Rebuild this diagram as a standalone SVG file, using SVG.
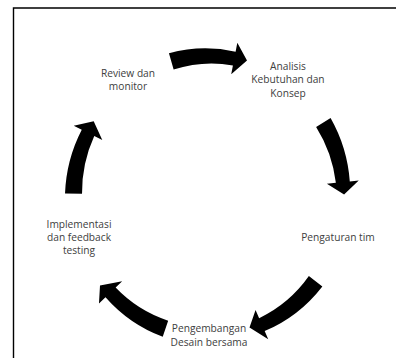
<svg xmlns="http://www.w3.org/2000/svg" width="396" height="358" viewBox="0 0 396 358">
  <style>
    .frame { stroke: #000; stroke-width: 1.4; fill: none; }
    .lbl { font-family: "Open Sans", "Noto Sans", "Liberation Sans", sans-serif; font-size: 10.2px; fill: #404040; text-anchor: middle; }
    .arrow { fill: #000; stroke: none; }
  </style>
  <rect width="396" height="358" fill="#fff"/>

  <!-- open frame: top and left edges only -->
  <path class="frame" d="M13.5 358 V8 H396"/>

  <!-- curved block arrows around the cycle (clockwise) -->
  <g id="connectors">
    <path class="arrow" d="M168.95 53.25 A142.75 147.75 0 0 1 235.60 51.70 L237.31 42.87 L247.0 60.5 L231.21 74.28 L232.92 65.44 A127.25 132.25 0 0 0 173.63 69.59 Z"/>
    <path class="arrow" d="M330.59 117.97 A142.75 147.75 0 0 1 349.80 181.40 L358.75 180.51 L344.08 194.5 L326.91 183.68 L335.87 182.79 A127.25 132.25 0 0 0 316.13 126.90 Z"/>
    <path class="arrow" d="M322.35 286.40 A142.75 147.75 0 0 1 264.67 331.01 L268.23 339.28 L249.5 327.5 L255.57 309.89 L259.13 318.15 A127.25 132.25 0 0 0 308.86 276.05 Z"/>
    <path class="arrow" d="M162.73 336.74 A142.75 147.75 0 0 1 105.50 297.19 L98.97 303.38 L100.0 285.5 L122.18 281.36 L115.65 287.55 A127.25 132.25 0 0 0 168.15 320.63 Z"/>
    <path class="arrow" d="M65.02 193.41 A142.75 147.75 0 0 1 81.75 129.72 L73.72 125.66 L93.69 121.19 L102.28 140.09 L94.25 136.03 A127.25 132.25 0 0 0 82.02 193.71 Z"/>
  </g>

  <g id="analisis">
    <text class="lbl" x="288" y="69.5">Analisis</text>
    <text class="lbl" x="288" y="83">Kebutuhan dan</text>
    <text class="lbl" x="288" y="96.5">Konsep</text>
  </g>

  <g id="pengaturan">
    <text class="lbl" x="338" y="240.5">Pengaturan tim</text>
  </g>

  <g id="pengembangan">
    <text class="lbl" x="209" y="331.5">Pengembangan</text>
    <text class="lbl" x="209" y="345.5">Desain bersama</text>
  </g>

  <g id="implementasi">
    <text class="lbl" x="79" y="227.5">Implementasi</text>
    <text class="lbl" x="79" y="241">dan feedback</text>
    <text class="lbl" x="79" y="254">testing</text>
  </g>

  <g id="review">
    <text class="lbl" x="128" y="76.5">Review dan</text>
    <text class="lbl" x="128" y="89.5">monitor</text>
  </g>
</svg>
